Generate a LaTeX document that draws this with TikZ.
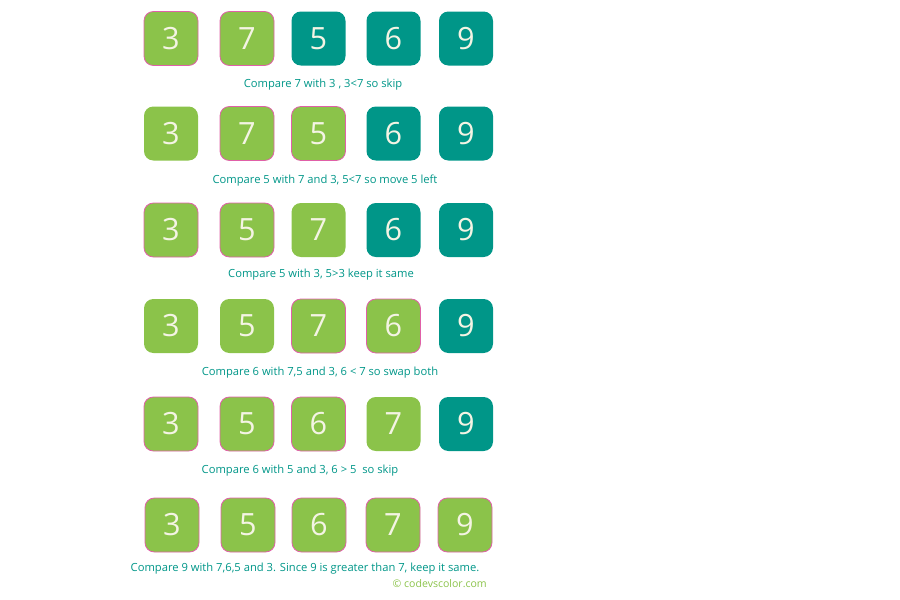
\documentclass[tikz,border=0pt]{standalone}
\usepackage{fontspec}
\setmainfont{Open Sans}
\definecolor{leafgreen}{HTML}{8BC34A}
\definecolor{tealbox}{HTML}{009688}
\definecolor{pinkedge}{HTML}{E060A8}
\definecolor{digitcream}{HTML}{F4F4E4}

\begin{document}
\begin{tikzpicture}[
        x=0.75pt, y=-0.75pt,
        cell/.style={rectangle, rounded corners=7pt, minimum size=40.5pt, inner sep=0pt, text=digitcream, font=\fontsize{23}{26}\selectfont},
        todo/.style={cell, fill=tealbox},
        done/.style={cell, fill=leafgreen},
        hot/.style={cell, fill=leafgreen, draw=pinkedge, line width=0.6pt},
        caption/.style={font=\fontsize{8.4}{10}\selectfont, text=tealbox, inner sep=0pt}
    ]
        \useasboundingbox (0,0) rectangle (900,600);

        % Step 1
        \node[hot] (r1c1) at (171,38.5) {3};
        \node[hot] (r1c2) at (247,38.5) {7};
        \node[todo] (r1c3) at (318.5,38.5) {5};
        \node[todo] (r1c4) at (393.5,38.5) {6};
        \node[todo] (r1c5) at (466,38.5) {9};
        \node[caption] (cap1) at (323,85) {Compare 7 with 3 , 3<7 so skip};

        % Step 2
        \node[done] (r2c1) at (171,133.5) {3};
        \node[hot] (r2c2) at (247,133.5) {7};
        \node[hot] (r2c3) at (318.5,133.5) {5};
        \node[todo] (r2c4) at (393.5,133.5) {6};
        \node[todo] (r2c5) at (466,133.5) {9};
        \node[caption] (cap2) at (325,181) {Compare 5 with 7 and 3, 5<7 so move 5 left};

        % Step 3
        \node[hot] (r3c1) at (171,230) {3};
        \node[hot] (r3c2) at (247,230) {5};
        \node[done] (r3c3) at (318.5,230) {7};
        \node[todo] (r3c4) at (393.5,230) {6};
        \node[todo] (r3c5) at (466,230) {9};
        \node[caption] (cap3) at (321,275) {Compare 5 with 3, 5>3 keep it same};

        % Step 4
        \node[done] (r4c1) at (171,326) {3};
        \node[done] (r4c2) at (247,326) {5};
        \node[hot] (r4c3) at (318.5,326) {7};
        \node[hot] (r4c4) at (393.5,326) {6};
        \node[todo] (r4c5) at (466,326) {9};
        \node[caption] (cap4) at (320,373) {Compare 6 with 7,5 and 3, 6 < 7 so swap both};

        % Step 5
        \node[hot] (r5c1) at (171,424) {3};
        \node[hot] (r5c2) at (247,424) {5};
        \node[hot] (r5c3) at (318.5,424) {6};
        \node[done] (r5c4) at (393.5,424) {7};
        \node[todo] (r5c5) at (466,424) {9};
        \node[caption] (cap5) at (300,471) {Compare 6 with 5 and 3, 6 > 5 \ so skip};

        % Step 6
        \node[hot] (r6c1) at (172,525) {3};
        \node[hot] (r6c2) at (248,525) {5};
        \node[hot] (r6c3) at (319,525) {6};
        \node[hot] (r6c4) at (393,525) {7};
        \node[hot] (r6c5) at (465,525) {9};
        \node[caption] (cap6) at (305,569) {Compare 9 with 7,6,5 and 3. Since 9 is greater than 7, keep it same.};

        % Credit
        \node[caption, font=\fontsize{7.9}{9}\selectfont, text=leafgreen, anchor=east] (credit) at (487,584) {© codevscolor.com};
    \end{tikzpicture}
\end{document}
